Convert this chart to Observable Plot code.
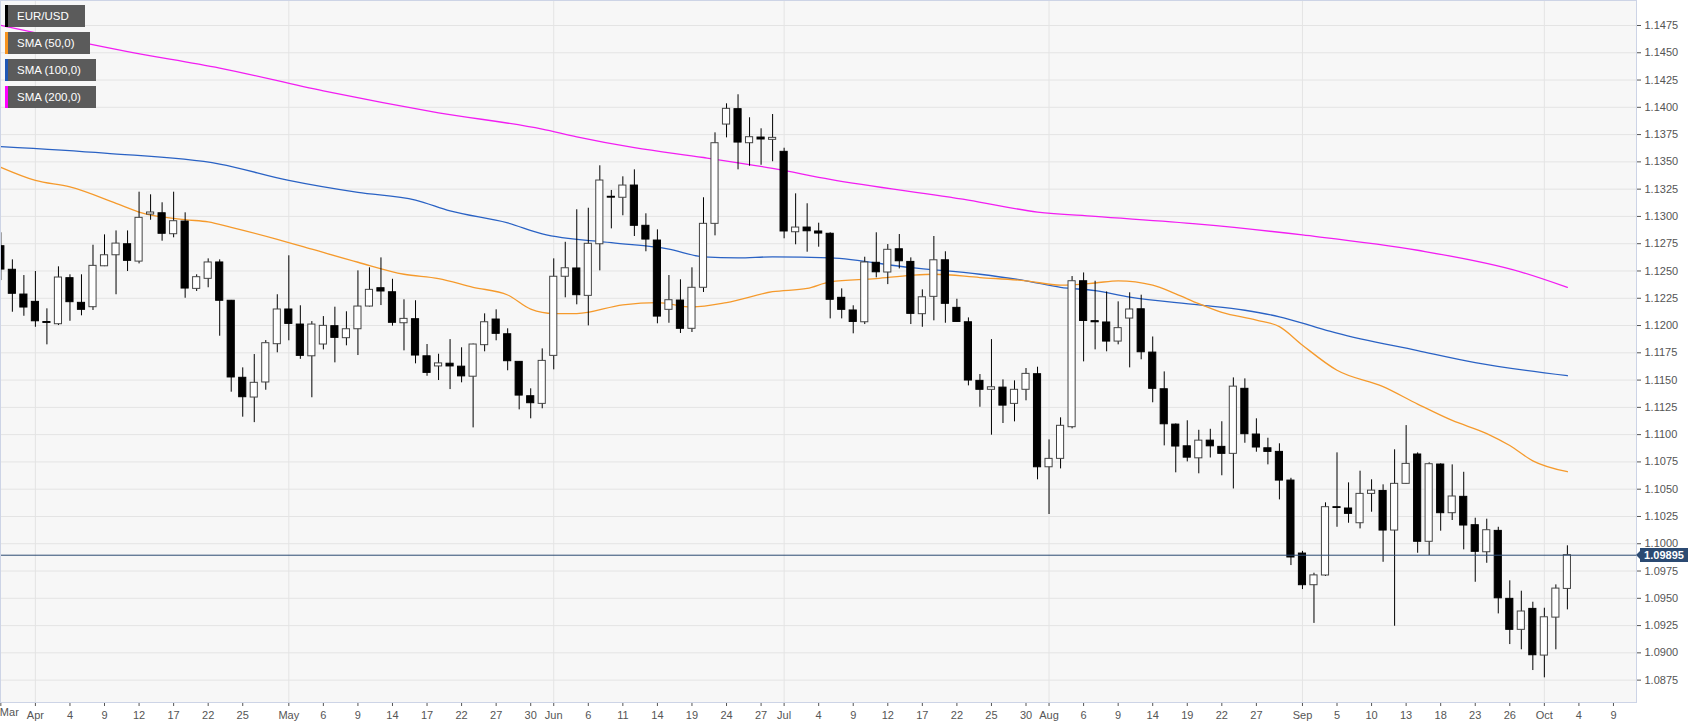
<!DOCTYPE html>
<html>
<head>
<meta charset="utf-8">
<script src="https://cdn.jsdelivr.net/npm/d3@7"></script>
<script src="https://cdn.jsdelivr.net/npm/@observablehq/plot@0.6"></script>
<style>
  html, body { margin: 0; padding: 0; background: #ffffff; }
  #wrap { position: relative; width: 1707px; height: 728px; font-family: "Liberation Sans", Arial, sans-serif; }
  .leg { position: absolute; left: 5px; height: 22px; background: #5b5b5b; color: #fff; font-size: 11.5px; line-height: 22px; box-sizing: border-box; padding-left: 12px; white-space: nowrap; }
  .leg span { position: absolute; left: 0; top: 0; width: 3px; height: 22px; }
  #tag { position: absolute; left: 1640px; width: 48px; height: 14px; background: #2b4a72; color: #fff; font-size: 11px; font-weight: bold; line-height: 14px; text-align: center; }
  #tag:before { content: ""; position: absolute; left: -4px; top: 3px; border-top: 4px solid transparent; border-bottom: 4px solid transparent; border-right: 4px solid #2b4a72; }
</style>
</head>
<body>
<div id="wrap"></div>
<script>
// EUR/USD daily candles, trading-day index 0 = 2019-03-27 ... 136 = 2019-10-03
const open = [1.12727,1.12511,1.12284,1.12217,1.12032,1.12012,1.12434,1.12208,1.12168,1.12543,
1.12644,1.12745,1.12586,1.13017,1.13029,1.12837,1.12953,1.12336,1.12428,1.12578,
1.12227,1.11521,1.11340,1.11478,1.11829,1.12147,1.12009,1.11718,1.11826,1.11994,
1.11884,1.11966,1.12174,1.12342,1.12305,1.12021,1.12058,1.11718,1.11625,1.11650,
1.11623,1.11531,1.11820,1.12055,1.11920,1.11667,1.11352,1.11282,1.11722,1.12447,
1.12523,1.12272,1.12745,1.13180,1.13171,1.13283,1.12914,1.12779,1.12144,1.12229,
1.11970,1.12346,1.12932,1.13842,1.13983,1.13671,1.13723,1.13702,1.13592,1.12855,
1.12898,1.12862,1.12841,1.12254,1.12138,1.12030,1.12575,1.12486,1.12699,1.12583,
1.12104,1.12263,1.12598,1.12162,1.12030,1.11493,1.11411,1.11431,1.11282,1.11411,
1.11554,1.10701,1.10778,1.11068,1.12406,1.12040,1.12028,1.11853,1.12064,1.12149,
1.11752,1.11416,1.11092,1.10893,1.10783,1.10945,1.10888,1.10824,1.11420,1.11001,
1.10875,1.10842,1.10579,1.09910,1.09620,1.09709,1.10335,1.10323,1.10188,1.10457,
1.10484,1.10121,1.10549,1.10818,1.10018,1.10726,1.10280,1.10430,1.10170,1.09922,
1.10118,1.09495,1.09211,1.09403,1.08975,1.09323,1.09586];
const high = [1.12850,1.12602,1.12458,1.12495,1.12153,1.12538,1.12465,1.12465,1.12736,1.12831,
1.12867,1.12867,1.13222,1.13198,1.13125,1.13222,1.13033,1.12465,1.12611,1.12602,
1.12230,1.11612,1.11734,1.11862,1.12282,1.12639,1.12181,1.12036,1.12082,1.12168,
1.12126,1.12501,1.12529,1.12620,1.12424,1.12236,1.12227,1.11826,1.11737,1.11871,
1.11796,1.11830,1.12107,1.12144,1.11970,1.11670,1.11420,1.11786,1.12611,1.12763,
1.13061,1.13075,1.13464,1.13238,1.13363,1.13427,1.13024,1.12877,1.12458,1.12419,
1.12529,1.13171,1.13766,1.14032,1.14115,1.13904,1.13803,1.13934,1.13625,1.13207,
1.13116,1.12938,1.12850,1.12336,1.12181,1.12626,1.12850,1.12742,1.12834,1.12620,
1.12327,1.12816,1.12676,1.12241,1.12070,1.11551,1.11871,1.11502,1.11493,1.11606,
1.11618,1.10952,1.11154,1.12449,1.12482,1.12406,1.12308,1.12217,1.12300,1.12278,
1.11895,1.11575,1.11098,1.11127,1.11040,1.11049,1.11118,1.11520,1.11511,1.11145,
1.10967,1.10916,1.10600,1.09930,1.09730,1.10375,1.10833,1.10558,1.10665,1.10586,
1.10540,1.10861,1.11083,1.10833,1.10742,1.10733,1.10723,1.10655,1.10234,1.10225,
1.10151,1.09660,1.09565,1.09464,1.09409,1.09623,1.09981];
const low = [1.12412,1.12122,1.12085,1.11984,1.11823,1.12000,1.12039,1.12089,1.12138,1.12540,
1.12282,1.12495,1.12565,1.12965,1.12773,1.12804,1.12250,1.12312,1.12346,1.11902,
1.11389,1.11160,1.11110,1.11407,1.11750,1.11860,1.11690,1.11338,1.11777,1.11658,
1.11814,1.11725,1.12170,1.12183,1.11994,1.11768,1.11649,1.11535,1.11496,1.11413,
1.11475,1.11062,1.11759,1.11860,1.11585,1.11227,1.11145,1.11237,1.11594,1.12254,
1.12190,1.11997,1.12501,1.12886,1.13006,1.12816,1.12676,1.12016,1.12021,1.11927,
1.11936,1.12303,1.12822,1.13720,1.13427,1.13460,1.13469,1.13501,1.12795,1.12740,
1.12672,1.12718,1.12061,1.12061,1.11924,1.12009,1.12437,1.12375,1.12519,1.12009,
1.11984,1.12043,1.12021,1.12030,1.11447,1.11251,1.10995,1.11102,1.11117,1.11310,
1.10586,1.10268,1.10686,1.11053,1.11667,1.11777,1.11759,1.11823,1.11612,1.11686,
1.11292,1.10897,1.10650,1.10750,1.10641,1.10786,1.10623,1.10502,1.10921,1.10839,
1.10723,1.10402,1.09800,1.09580,1.09270,1.09700,1.10151,1.10188,1.10136,1.10289,
1.09830,1.09244,1.10545,1.09913,1.09892,1.10115,1.10213,1.09944,1.09647,1.09821,
1.09357,1.09076,1.09028,1.08838,1.08771,1.09028,1.09394];
const close = [1.12513,1.12291,1.12165,1.12039,1.12024,1.12440,1.12214,1.12144,1.12547,1.12644,
1.12751,1.12593,1.12987,1.13036,1.12841,1.12956,1.12339,1.12443,1.12578,1.12227,
1.11524,1.11343,1.11475,1.11838,1.12147,1.12015,1.11722,1.12009,1.11997,1.11887,
1.11966,1.12174,1.12327,1.12312,1.12025,1.12061,1.11725,1.11566,1.11653,1.11625,
1.11534,1.11826,1.12030,1.11924,1.11673,1.11358,1.11288,1.11676,1.12447,1.12525,
1.12278,1.12749,1.13329,1.13172,1.13283,1.12914,1.12788,1.12082,1.12232,1.11970,
1.12346,1.12932,1.13671,1.13986,1.13677,1.13726,1.13705,1.13720,1.12862,1.12898,
1.12864,1.12843,1.12236,1.12144,1.12033,1.12578,1.12488,1.12694,1.12589,1.12107,
1.12259,1.12598,1.12199,1.12033,1.11496,1.11411,1.11434,1.11266,1.11411,1.11557,
1.10701,1.10778,1.11081,1.12406,1.12042,1.12030,1.11853,1.11976,1.12147,1.11755,
1.11420,1.11095,1.10891,1.10789,1.10945,1.10893,1.10824,1.11440,1.11004,1.10882,
1.10842,1.10579,1.09874,1.09620,1.09710,1.10335,1.10328,1.10274,1.10457,1.10487,
1.10121,1.10549,1.10732,1.10018,1.10729,1.10280,1.10433,1.10167,1.09926,1.10124,
1.09500,1.09211,1.09379,1.08978,1.09326,1.09589,1.09895];

// Moving averages at selected trading-day indices
const sma50Idx  = [0,3,6,10,12,16,18,20,24,27,31,35,38,41,44,46,48,50,54,57,60,63,67,70,72,76,79,81,85,89,92,95,97,100,102,104,106,109,111,113,116,120,123,126,129,131,133,136];
const sma50Val  = [1.1345,1.1333,1.1327,1.1312,1.1304,1.1297,1.1295,1.1290,1.1279,1.1270,1.1258,1.1247,1.1243,1.1235,1.1228,1.1215,1.1211,1.1211,1.1219,1.1221,1.1217,1.1221,1.1231,1.1234,1.1240,1.1243,1.1246,1.1247,1.1244,1.1241,1.1237,1.1239,1.1241,1.1237,1.1229,1.1220,1.1212,1.1205,1.1199,1.1182,1.1159,1.1144,1.1128,1.1113,1.1101,1.1090,1.1076,1.1066];
const sma100Idx = [0,9,19,25,31,36,39,44,47,53,58,61,64,67,72,79,85,89,92,95,98,104,108,111,114,116,123,128,136];
const sma100Val = [1.1364,1.1358,1.1348,1.1333,1.1322,1.1315,1.1305,1.1294,1.1284,1.1276,1.1270,1.1263,1.1262,1.1263,1.1262,1.1253,1.1247,1.1241,1.1235,1.1232,1.1226,1.1219,1.1214,1.1208,1.1199,1.1193,1.1177,1.1166,1.1154];
const sma200Idx = [0,11,19,28,38,47,50,55,61,67,72,84,90,95,104,113,123,132,136];
const sma200Val = [1.1475,1.1451,1.1436,1.1415,1.1395,1.1380,1.1373,1.1363,1.1354,1.1344,1.1334,1.1315,1.1304,1.1300,1.1293,1.1283,1.1269,1.1249,1.1235];

// Axis ticks
const xTickIdx = [0,3,6,9,12,15,18,21,25,28,31,34,37,40,43,46,48,51,54,57,60,63,66,68,71,74,77,80,83,86,89,91,94,97,100,103,106,109,113,116,119,122,125,128,131,134,137,140];
const xTickLbl = ["Mar","Apr","4","9","12","17","22","25","May","6","9","14","17","22","27","30","Jun","6","11","14","19","24","27","Jul","4","9","12","17","22","25","30","Aug","6","9","14","19","22","27","Sep","5","10","13","18","23","26","Oct","4","9"];
const monthIdx = [3,25,48,68,91,113,134];
const yTicks = [1.0875,1.0900,1.0925,1.0950,1.0975,1.1000,1.1025,1.1050,1.1075,1.1100,1.1125,1.1150,1.1175,1.1200,1.1225,1.1250,1.1275,1.1300,1.1325,1.1350,1.1375,1.1400,1.1425,1.1450,1.1475];
const lastPrice = 1.09895;

const legendItems = ["EUR/USD","SMA (50,0)","SMA (100,0)","SMA (200,0)"];
const legendColors = ["#000000","#f7931e","#1f57b5","#ff00ff"];

const candles = open.map((o, i) => ({i, o, h: high[i], l: low[i], c: close[i],
  fill: close[i] >= o ? "#ffffff" : "#000000", stroke: close[i] >= o ? "#444444" : "#000000"}));
const mk = (idx, val) => idx.map((i, k) => ({i, v: val[k]}));
const lblMap = new Map(xTickIdx.map((d, k) => [d, xTickLbl[k]]));

const chart = Plot.plot({
  width: 1707, height: 728,
  marginLeft: 0, marginRight: 71, marginTop: 0, marginBottom: 26,
  style: {fontFamily: '"Liberation Sans", Arial, sans-serif', fontSize: "11px", color: "#555", background: "#ffffff"},
  x: {domain: [-0.03, 142.0], ticks: xTickIdx, tickFormat: d => d === 0 ? "" : lblMap.get(d), tickSize: 4, tickPadding: 5, label: null},
  y: {domain: [1.08545, 1.14979], axis: "right", ticks: yTicks, tickFormat: d3.format(".4f"), tickSize: 4, tickPadding: 4, label: null},
  color: {type: "identity"},
  marks: [
    Plot.frame({fill: "#f7f7f7"}),
    Plot.ruleY(yTicks, {stroke: "#e4e4e4", strokeWidth: 1}),
    Plot.ruleX(monthIdx, {stroke: "#e4e4e4", strokeWidth: 1}),
    Plot.line(mk(sma200Idx, sma200Val), {x: "i", y: "v", stroke: "#f21ef2", strokeWidth: 1.3, curve: "monotone-x"}),
    Plot.line(mk(sma100Idx, sma100Val), {x: "i", y: "v", stroke: "#2a62c4", strokeWidth: 1.3, curve: "monotone-x"}),
    Plot.line(mk(sma50Idx, sma50Val), {x: "i", y: "v", stroke: "#f59a2c", strokeWidth: 1.3, curve: "monotone-x"}),
    Plot.ruleX(candles, {x: "i", y1: "l", y2: "h", stroke: "#000", strokeWidth: 1}),
    Plot.rect(candles, {x1: d => d.i - 0.31, x2: d => d.i + 0.31, y1: "o", y2: "c", fill: "fill", stroke: "stroke", strokeWidth: 1}),
    Plot.ruleY([lastPrice], {stroke: "#2b4a72", strokeWidth: 1}),
    Plot.frame({stroke: "#cdd4e6"}),
    Plot.text([{i: 0, t: xTickLbl[0]}], {x: "i", text: "t", frameAnchor: "bottom", dy: 13, dx: -1, textAnchor: "start", fill: "#555", fontSize: 11})
  ]
});

const wrap = document.getElementById("wrap");
wrap.appendChild(chart);

legendItems.forEach((t, k) => {
  const d = document.createElement("div");
  d.className = "leg";
  d.style.top = (5 + k * 27) + "px";
  d.style.width = [80, 85, 91, 91][k] + "px";
  d.textContent = t;
  const s = document.createElement("span");
  s.style.background = legendColors[k];
  d.appendChild(s);
  wrap.appendChild(d);
});

const tag = document.createElement("div");
tag.id = "tag";
tag.textContent = lastPrice.toFixed(5);
tag.style.top = (chart.scale("y").apply(lastPrice) - 7) + "px";
wrap.appendChild(tag);
</script>
</body>
</html>
